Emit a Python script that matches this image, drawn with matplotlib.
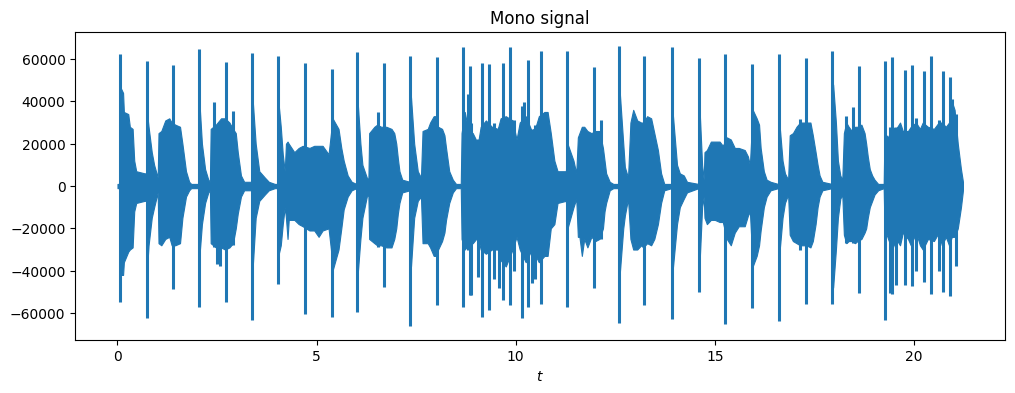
import matplotlib

matplotlib.use("Agg")
import matplotlib.pyplot as plt
import numpy as np

# Envelope of the waveform body (values in thousands).
env_t = [
    0.00, 0.045, 0.05, 0.09, 0.14, 0.16, 0.27, 0.31, 0.38, 0.42, 0.47, 0.68, 0.72, 0.74, 0.78, 0.86, 0.92, 1.01,
    1.03, 1.10, 1.20, 1.30, 1.36, 1.45, 1.57, 1.63, 1.72, 1.80, 1.85, 2.03,
    2.05, 2.12, 2.20, 2.28, 2.32, 2.34, 2.47, 2.60, 2.70, 2.81, 2.90, 2.97, 3.02, 3.10, 3.18, 3.36,
    3.39, 3.47, 3.56, 3.70, 3.80, 3.95, 4.03,
    4.05, 4.10, 4.15, 4.20, 4.23, 4.27, 4.30, 4.44, 4.55, 4.65, 4.82, 4.94, 5.05, 5.15, 5.30, 5.36, 5.40, 5.55, 5.62, 5.68, 5.78, 5.88, 6.00,
    6.03, 6.10, 6.15, 6.26, 6.30, 6.32, 6.45, 6.52, 6.62, 6.75, 6.88, 6.95, 7.00, 7.04, 7.08, 7.15, 7.34,
    7.37, 7.45, 7.54, 7.62, 7.66, 7.79, 7.85, 7.94, 8.00, 8.05, 8.15, 8.21, 8.25, 8.33, 8.42, 8.50, 8.62,
    8.64, 8.72, 8.80, 8.92, 9.05, 9.12, 9.25, 9.40, 9.55, 9.62, 9.75, 9.92, 10.02, 10.10, 10.25, 10.40, 10.50, 10.58, 10.72, 10.80, 10.88, 10.97, 11.05, 11.26,
    11.30, 11.45, 11.52, 11.56, 11.60, 11.66, 11.72, 11.80, 11.90, 12.00, 12.10, 12.19, 12.23, 12.27, 12.36, 12.45, 12.58,
    12.61, 12.70, 12.74, 12.82, 12.88, 12.95, 13.05, 13.15, 13.20, 13.30, 13.40, 13.48, 13.57, 13.65, 13.73, 13.91,
    13.94, 14.05, 14.12, 14.22, 14.30, 14.59,
    14.62, 14.68, 14.72, 14.74, 14.80, 14.90, 15.00, 15.12, 15.20, 15.30, 15.40, 15.50, 15.60, 15.75, 15.83, 15.88, 15.95, 16.05, 16.11, 16.15, 16.23, 16.30, 16.40, 16.59,
    16.62, 16.70, 16.76, 16.84, 16.88, 16.96, 17.05, 17.14, 17.22, 17.30, 17.40, 17.46, 17.53, 17.58, 17.63, 17.70, 17.94,
    17.97, 18.04, 18.09, 18.15, 18.20, 18.24, 18.30, 18.36, 18.44, 18.52, 18.58, 18.68, 18.76, 18.80, 18.84, 18.89, 18.95, 19.01, 19.10, 19.24,
    19.26, 19.35, 19.45, 19.55, 19.65, 19.72, 19.85, 19.92, 20.05, 20.15, 20.22, 20.35, 20.50, 20.62, 20.70, 20.80, 20.88, 20.95, 21.02, 21.10, 21.18, 21.23,
]
env_hi = [
    1, 1, 35, 46, 44, 35, 34, 28, 27, 12, 7, 6, 6, 35, 28, 16, 10, 4,
    25, 26, 31, 32, 30, 29, 28, 20, 7, 2, 1, 1,
    42, 20, 8, 3, 2, 27, 29, 32, 32, 30, 27, 25, 16, 5, 2, 2,
    42, 20, 7, 4, 2, 1, 1,
    38, 28, 15, 7, 20, 21, 20, 16, 18, 19, 18, 19, 19, 19, 15, 25, 32, 27, 18, 12, 5, 2, 1,
    40, 20, 10, 4, 3, 25, 28, 29, 28, 28, 27, 25, 20, 13, 7, 3, 2,
    42, 20, 7, 4, 26, 27, 30, 33, 33, 28, 27, 24, 18, 7, 3, 1, 1,
    25, 35, 27, 25, 20, 28, 31, 28, 27, 32, 33, 31, 22, 30, 33, 26, 28, 33, 35, 35, 25, 12, 7, 7,
    20, 12, 6, 23, 25, 28, 28, 26, 25, 26, 26, 18, 12, 6, 2, 1, 1,
    45, 20, 9, 4, 30, 36, 31, 30, 30, 33, 32, 25, 17, 6, 1, 1,
    35, 10, 6, 5, 2, 1,
    35, 10, 3, 16, 17, 21, 21, 21, 19, 23, 22, 18, 18, 17, 14, 10, 36, 32, 29, 18, 7, 3, 2, 1,
    30, 12, 6, 3, 24, 25, 28, 30, 30, 30, 30, 24, 16, 10, 5, 2, 1,
    48, 30, 12, 5, 3, 25, 30, 28, 26, 28, 28, 29, 25, 20, 14, 8, 5, 3, 1, 1,
    25, 23, 28, 27, 30, 26, 26, 28, 30, 27, 30, 28, 27, 30, 30, 28, 30, 40, 36, 20, 8, 2,
]
env_lo = [
    -1, -1, -42, -42, -42, -36, -31, -30, -29, -12, -8, -7, -7, -40, -28, -15, -10, -3,
    -27, -28, -25, -24, -28, -28, -27, -15, -5, -2, -1, -1,
    -35, -18, -8, -3, -2, -27, -29, -29, -30, -29, -27, -20, -13, -5, -2, -2,
    -40, -15, -7, -4, -2, -1, -1,
    -32, -28, -18, -10, -15, -25, -16, -16, -18, -19, -21, -21, -24, -21, -20, -30, -40, -30, -20, -11, -5, -2, -1,
    -42, -25, -15, -5, -4, -25, -27, -28, -28, -29, -29, -25, -20, -13, -8, -3, -2,
    -38, -15, -7, -5, -27, -27, -29, -33, -33, -30, -26, -22, -16, -8, -3, -1, -1,
    -25, -30, -28, -27, -24, -30, -32, -30, -30, -35, -38, -30, -24, -30, -36, -30, -33, -36, -33, -33, -20, -18, -8, -7,
    -20, -10, -6, -24, -24, -33, -25, -29, -24, -26, -25, -20, -12, -8, -2, -1, -1,
    -42, -20, -14, -6, -25, -30, -30, -28, -29, -27, -28, -25, -18, -8, -2, -1,
    -40, -18, -10, -6, -3, -1,
    -35, -10, -5, -15, -18, -16, -16, -17, -17, -25, -28, -22, -19, -19, -14, -12, -38, -33, -28, -21, -10, -5, -2, -1,
    -32, -15, -8, -4, -23, -26, -27, -28, -28, -28, -29, -26, -18, -10, -5, -2, -1,
    -48, -30, -15, -6, -4, -23, -27, -26, -26, -27, -26, -25, -22, -20, -15, -10, -7, -4, -2, -1,
    -20, -25, -30, -25, -28, -22, -25, -28, -22, -28, -30, -25, -26, -22, -28, -24, -28, -24, -24, -20, -10, -2,
]

# Note onsets (attack transients), values in thousands.
spike_t = [
    0.06, 0.73, 1.40, 2.04, 2.72, 3.37, 4.04, 4.71, 5.38, 6.01, 6.68, 7.35, 8.02,
    8.68, 8.85, 9.16, 9.34, 9.67, 9.86, 10.16, 10.30, 10.63, 11.28, 11.96, 12.59,
    13.23, 13.92, 14.60, 15.26, 15.93, 16.60, 17.28, 17.95, 18.62,
    19.28, 19.46, 19.77, 19.94, 20.25, 20.44, 20.73, 20.90,
    2.43, 2.49, 2.57, 2.91, 6.55, 8.79, 8.88, 10.20, 10.77, 12.13, 18.30, 18.47, 20.95,
    9.05, 9.45, 9.58, 9.95, 10.40, 10.48, 17.14, 19.39, 19.56, 20.05, 20.62, 21.05,
]
spike_hi = [
    62.4, 58.9, 57.3, 64.7, 58.4, 62.7, 61.6, 58.0, 55.3, 63.1, 58.0, 61.6, 61.1,
    65.5, 56.9, 58.0, 57.6, 58.0, 65.8, 38.0, 59.5, 63.6, 63.6, 56.4, 66.3,
    61.6, 65.5, 60.5, 62.4, 57.6, 62.4, 60.5, 64.0, 56.9,
    58.9, 60.8, 54.8, 57.3, 54.5, 61.6, 54.5, 51.4,
    39.6, 29.0, 29.0, 35.3, 35.0, 43.5, 30.0, 39.6, 35.0, 31.0, 33.3, 37.2, 40.9,
    22.0, 30.0, 28.0, 31.0, 27.0, 29.0, 31.7, 28.0, 28.0, 32.0, 31.0, 34.0,
]
spike_lo = [
    -55.0, -62.5, -48.7, -57.0, -54.7, -63.3, -46.3, -60.5, -61.7, -59.4, -47.6, -66.0, -56.2,
    -57.0, -51.5, -61.7, -58.6, -53.9, -56.0, -62.5, -57.0, -55.5, -57.3, -48.4, -64.6,
    -56.0, -63.0, -50.0, -65.2, -57.5, -64.0, -55.5, -55.8, -50.4,
    -63.3, -51.0, -46.8, -47.0, -45.2, -51.0, -50.0, -52.0,
    -29.0, -36.6, -37.7, -28.0, -29.0, -30.0, -51.4, -30.0, -33.0, -25.0, -27.0, -27.0, -24.0,
    -43.0, -44.0, -48.0, -40.0, -46.0, -44.0, -30.0, -50.7, -46.8, -40.0, -40.0, -38.0,
]

color = "#1f77b4"
t = np.array(env_t)
hi = np.array(env_hi) * 1000.0
lo = np.array(env_lo) * 1000.0

fig, ax = plt.subplots(figsize=(12, 4), dpi=100)
ax.fill_between(t, lo, hi, color=color, linewidth=0.8)
ax.vlines(spike_t, np.array(spike_lo) * 1000.0, np.array(spike_hi) * 1000.0, color=color, linewidth=2.2)
ax.set_title("Mono signal")
ax.set_xlabel("$t$")
fig.savefig("out.png", bbox_inches="tight")
